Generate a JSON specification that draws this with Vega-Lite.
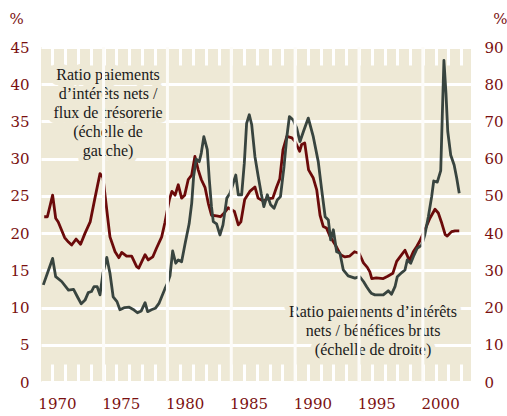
{
  "$schema": "https://vega.github.io/schema/vega-lite/v6.json",
  "width": 430,
  "height": 335,
  "autosize": "none",
  "padding": {"left": 41, "top": 47, "right": 36, "bottom": 34},
  "background": "white",
  "config": {
    "view": {"fill": "#EEE9D6", "stroke": null},
    "axis": {"domain": false, "labelFont": "DejaVu Serif", "labelFontSize": 15, "labelColor": "#7a1010", "titleFont": "DejaVu Serif", "titleFontSize": 15, "titleColor": "#7a1010", "titleFontWeight": "normal"}
  },
  "datasets": {
    "grille": [
      {"annee": 1973.65}, {"annee": 1978.65}, {"annee": 1983.65}, {"annee": 1988.65}, {"annee": 1993.65}, {"annee": 1998.65}
    ],
    "tresorerie": [
      {"year": 1969.0, "value": 22.2}, {"year": 1969.25, "value": 22.2}, {"year": 1969.66, "value": 25.1}, {"year": 1969.9, "value": 22.0},
      {"year": 1970.1, "value": 21.5}, {"year": 1970.6, "value": 19.4}, {"year": 1970.9, "value": 18.8}, {"year": 1971.15, "value": 18.4},
      {"year": 1971.5, "value": 19.2}, {"year": 1971.85, "value": 18.5}, {"year": 1972.2, "value": 20.0}, {"year": 1972.6, "value": 21.5},
      {"year": 1972.95, "value": 24.5}, {"year": 1973.37, "value": 28.0}, {"year": 1973.6, "value": 27.5}, {"year": 1973.9, "value": 23.1},
      {"year": 1974.15, "value": 19.5}, {"year": 1974.55, "value": 17.5}, {"year": 1974.85, "value": 16.7}, {"year": 1975.07, "value": 17.4},
      {"year": 1975.45, "value": 16.9}, {"year": 1975.85, "value": 16.9}, {"year": 1976.24, "value": 15.5}, {"year": 1976.4, "value": 15.3},
      {"year": 1976.9, "value": 17.1}, {"year": 1977.15, "value": 16.4}, {"year": 1977.5, "value": 16.8}, {"year": 1977.8, "value": 18.0},
      {"year": 1978.2, "value": 19.5}, {"year": 1978.45, "value": 21.4}, {"year": 1978.8, "value": 24.5}, {"year": 1979.0, "value": 25.6},
      {"year": 1979.25, "value": 25.1}, {"year": 1979.5, "value": 26.5}, {"year": 1979.76, "value": 24.7}, {"year": 1980.0, "value": 25.1},
      {"year": 1980.28, "value": 27.2}, {"year": 1980.55, "value": 27.8}, {"year": 1980.8, "value": 30.3}, {"year": 1981.06, "value": 28.5},
      {"year": 1981.3, "value": 27.2}, {"year": 1981.6, "value": 26.1}, {"year": 1981.85, "value": 24.0}, {"year": 1982.1, "value": 22.4},
      {"year": 1982.5, "value": 22.3}, {"year": 1982.8, "value": 22.2}, {"year": 1983.1, "value": 22.7}, {"year": 1983.4, "value": 23.4},
      {"year": 1983.9, "value": 22.9}, {"year": 1984.2, "value": 21.1}, {"year": 1984.4, "value": 21.5}, {"year": 1984.7, "value": 24.5},
      {"year": 1985.1, "value": 25.6}, {"year": 1985.5, "value": 26.2}, {"year": 1985.75, "value": 24.7}, {"year": 1986.15, "value": 24.3},
      {"year": 1986.5, "value": 24.6}, {"year": 1986.9, "value": 24.7}, {"year": 1987.2, "value": 26.2}, {"year": 1987.45, "value": 27.3},
      {"year": 1987.7, "value": 31.2}, {"year": 1988.0, "value": 33.0}, {"year": 1988.4, "value": 32.8}, {"year": 1988.65, "value": 32.3},
      {"year": 1989.0, "value": 31.0}, {"year": 1989.16, "value": 31.9}, {"year": 1989.4, "value": 32.1}, {"year": 1989.7, "value": 28.5},
      {"year": 1990.07, "value": 27.4}, {"year": 1990.34, "value": 25.8}, {"year": 1990.6, "value": 22.4}, {"year": 1990.85, "value": 20.9},
      {"year": 1991.1, "value": 20.7}, {"year": 1991.4, "value": 19.5}, {"year": 1991.8, "value": 18.4}, {"year": 1992.2, "value": 17.1},
      {"year": 1992.55, "value": 16.8}, {"year": 1992.9, "value": 16.9}, {"year": 1993.3, "value": 17.5}, {"year": 1993.65, "value": 17.3},
      {"year": 1994.0, "value": 16.0}, {"year": 1994.3, "value": 15.4}, {"year": 1994.5, "value": 14.8}, {"year": 1994.65, "value": 13.9},
      {"year": 1995.0, "value": 14.0}, {"year": 1995.55, "value": 13.9}, {"year": 1995.9, "value": 14.2}, {"year": 1996.3, "value": 14.6},
      {"year": 1996.6, "value": 16.2}, {"year": 1996.86, "value": 16.8}, {"year": 1997.25, "value": 17.7}, {"year": 1997.6, "value": 16.3},
      {"year": 1997.9, "value": 17.5}, {"year": 1998.17, "value": 18.2}, {"year": 1998.4, "value": 18.9}, {"year": 1998.8, "value": 20.4},
      {"year": 1999.2, "value": 22.0}, {"year": 1999.6, "value": 23.2}, {"year": 1999.86, "value": 22.7}, {"year": 2000.1, "value": 21.5},
      {"year": 2000.4, "value": 19.8}, {"year": 2000.56, "value": 19.6}, {"year": 2000.9, "value": 20.2}, {"year": 2001.17, "value": 20.3},
      {"year": 2001.5, "value": 20.3}
    ],
    "benefices": [
      {"year": 1968.93, "value": 26.1}, {"year": 1969.3, "value": 29.7}, {"year": 1969.66, "value": 33.2}, {"year": 1969.9, "value": 28.3},
      {"year": 1970.37, "value": 27.0}, {"year": 1970.9, "value": 24.7}, {"year": 1971.3, "value": 24.9}, {"year": 1971.6, "value": 22.9},
      {"year": 1971.9, "value": 21.0}, {"year": 1972.2, "value": 22.0}, {"year": 1972.45, "value": 24.0}, {"year": 1972.7, "value": 24.3},
      {"year": 1972.9, "value": 25.6}, {"year": 1973.15, "value": 25.6}, {"year": 1973.37, "value": 23.4}, {"year": 1973.6, "value": 29.2},
      {"year": 1973.9, "value": 33.5}, {"year": 1974.15, "value": 29.2}, {"year": 1974.4, "value": 22.9}, {"year": 1974.7, "value": 21.6},
      {"year": 1974.93, "value": 19.4}, {"year": 1975.3, "value": 20.0}, {"year": 1975.66, "value": 20.1}, {"year": 1975.97, "value": 19.5},
      {"year": 1976.3, "value": 18.6}, {"year": 1976.6, "value": 19.1}, {"year": 1976.9, "value": 21.3}, {"year": 1977.1, "value": 18.9},
      {"year": 1977.4, "value": 19.4}, {"year": 1977.7, "value": 19.8}, {"year": 1978.0, "value": 21.2}, {"year": 1978.2, "value": 22.9},
      {"year": 1978.45, "value": 25.0}, {"year": 1978.65, "value": 26.5}, {"year": 1978.85, "value": 28.5}, {"year": 1979.06, "value": 35.2},
      {"year": 1979.3, "value": 31.9}, {"year": 1979.5, "value": 32.8}, {"year": 1979.76, "value": 32.3}, {"year": 1980.05, "value": 37.5},
      {"year": 1980.35, "value": 42.5}, {"year": 1980.55, "value": 48.0}, {"year": 1980.7, "value": 55.2}, {"year": 1980.9, "value": 59.9},
      {"year": 1981.14, "value": 59.2}, {"year": 1981.3, "value": 61.5}, {"year": 1981.5, "value": 65.9}, {"year": 1981.77, "value": 62.4},
      {"year": 1981.93, "value": 54.3}, {"year": 1982.1, "value": 47.1}, {"year": 1982.24, "value": 43.1}, {"year": 1982.5, "value": 42.5},
      {"year": 1982.76, "value": 39.5}, {"year": 1983.0, "value": 42.2}, {"year": 1983.3, "value": 49.4}, {"year": 1983.55, "value": 50.7},
      {"year": 1983.8, "value": 53.4}, {"year": 1984.0, "value": 55.6}, {"year": 1984.2, "value": 50.3}, {"year": 1984.46, "value": 50.3},
      {"year": 1984.67, "value": 58.8}, {"year": 1984.85, "value": 69.5}, {"year": 1985.06, "value": 71.8}, {"year": 1985.25, "value": 69.1},
      {"year": 1985.5, "value": 60.6}, {"year": 1985.76, "value": 55.2}, {"year": 1986.0, "value": 50.5}, {"year": 1986.2, "value": 47.1},
      {"year": 1986.47, "value": 50.3}, {"year": 1986.73, "value": 47.6}, {"year": 1987.0, "value": 46.7}, {"year": 1987.25, "value": 48.9},
      {"year": 1987.5, "value": 49.8}, {"year": 1987.78, "value": 57.9}, {"year": 1988.0, "value": 65.9}, {"year": 1988.2, "value": 71.3},
      {"year": 1988.5, "value": 70.4}, {"year": 1988.77, "value": 68.2}, {"year": 1989.03, "value": 64.6}, {"year": 1989.3, "value": 67.3},
      {"year": 1989.68, "value": 70.9}, {"year": 1990.07, "value": 65.9}, {"year": 1990.46, "value": 59.2}, {"year": 1990.73, "value": 51.6},
      {"year": 1991.0, "value": 44.4}, {"year": 1991.25, "value": 43.5}, {"year": 1991.43, "value": 38.2}, {"year": 1991.64, "value": 40.9},
      {"year": 1991.9, "value": 35.0}, {"year": 1992.16, "value": 34.6}, {"year": 1992.42, "value": 30.1}, {"year": 1992.8, "value": 28.5},
      {"year": 1993.33, "value": 27.9}, {"year": 1993.7, "value": 28.3}, {"year": 1994.0, "value": 27.0}, {"year": 1994.25, "value": 25.6},
      {"year": 1994.5, "value": 24.3}, {"year": 1994.64, "value": 23.8}, {"year": 1994.9, "value": 23.4}, {"year": 1995.3, "value": 23.4},
      {"year": 1995.55, "value": 23.4}, {"year": 1995.94, "value": 24.5}, {"year": 1996.2, "value": 23.6}, {"year": 1996.47, "value": 25.6},
      {"year": 1996.65, "value": 28.3}, {"year": 1997.0, "value": 29.4}, {"year": 1997.25, "value": 30.1}, {"year": 1997.43, "value": 32.8},
      {"year": 1997.7, "value": 31.9}, {"year": 1997.96, "value": 34.1}, {"year": 1998.2, "value": 35.9}, {"year": 1998.56, "value": 36.8},
      {"year": 1998.8, "value": 39.5}, {"year": 1999.08, "value": 44.4}, {"year": 1999.34, "value": 49.8}, {"year": 1999.5, "value": 54.0},
      {"year": 1999.78, "value": 53.7}, {"year": 2000.05, "value": 56.8}, {"year": 2000.17, "value": 71.3}, {"year": 2000.3, "value": 86.4},
      {"year": 2000.46, "value": 77.6}, {"year": 2000.6, "value": 67.3}, {"year": 2000.83, "value": 61.0}, {"year": 2001.1, "value": 58.3},
      {"year": 2001.3, "value": 54.8}, {"year": 2001.5, "value": 50.7}
    ]
  },
  "layer": [
    {
      "data": {"name": "tresorerie"},
      "mark": {"type": "line", "color": "#6b0a0a", "strokeWidth": 2.8, "strokeJoin": "round"},
      "encoding": {
        "x": {"field": "year", "type": "quantitative", "scale": {"domain": [1968.75, 2002.42], "nice": false, "zero": false},
          "axis": {"orient": "bottom", "values": [1970, 1975, 1980, 1985, 1990, 1995, 2000], "format": "d", "ticks": false, "grid": false, "labelPadding": 14, "title": null}},
        "y": {"field": "value", "type": "quantitative", "scale": {"domain": [0, 45], "nice": false, "zero": true},
          "axis": {"orient": "left", "values": [0, 5, 10, 15, 20, 25, 30, 35, 40, 45], "grid": true, "gridColor": "white", "gridWidth": 3, "gridOpacity": 1, "ticks": false, "labelPadding": 12, "labelBaseline": "middle",
            "title": "%", "titleAngle": 0, "titleX": -32, "titleY": -24, "titleAlign": "left", "titleBaseline": "alphabetic"}}
      }
    },
    {
      "data": {"name": "benefices"},
      "mark": {"type": "line", "color": "#38443f", "strokeWidth": 2.8, "strokeJoin": "round"},
      "encoding": {
        "x": {"field": "year", "type": "quantitative", "scale": {"domain": [1968.75, 2002.42], "nice": false, "zero": false},
          "axis": {"orient": "bottom", "values": [1969.65, 1970.65, 1971.65, 1972.65, 1973.65, 1974.65, 1975.65, 1976.65, 1977.65, 1978.65, 1979.65, 1980.65, 1981.65, 1982.65, 1983.65, 1984.65, 1985.65, 1986.65, 1987.65, 1988.65, 1989.65, 1990.65, 1991.65, 1992.65, 1993.65, 1994.65, 1995.65, 1996.65, 1997.65, 1998.65, 1999.65, 2000.65, 2001.65],
            "labels": false, "ticks": true, "tickSize": -18, "tickColor": "white", "tickWidth": 3, "tickOpacity": 1, "grid": false, "title": null}},
        "y": {"field": "value", "type": "quantitative", "scale": {"domain": [0, 90], "nice": false, "zero": true},
          "axis": {"orient": "right", "values": [0, 10, 20, 30, 40, 50, 60, 70, 80, 90], "grid": false, "ticks": false, "labelPadding": 13, "labelBaseline": "middle",
            "title": "%", "titleAngle": 0, "titleX": 36, "titleY": -24, "titleAlign": "right", "titleBaseline": "alphabetic"}}
      }
    },
    {
      "data": {"values": [{"note": "gauche"}]},
      "mark": {"type": "text", "font": "Liberation Serif", "fontSize": 16, "lineHeight": 19, "align": "center", "baseline": "middle", "fill": "#EEE9D6", "stroke": "#EEE9D6", "strokeWidth": 10, "strokeJoin": "round"},
      "encoding": {
        "x": {"datum": 1974.0, "type": "quantitative", "scale": {"domain": [1968.75, 2002.42], "nice": false, "zero": false},
          "axis": {"orient": "top", "values": [1969.65, 1970.65, 1971.65, 1972.65, 1973.65, 1974.65, 1975.65, 1976.65, 1977.65, 1978.65, 1979.65, 1980.65, 1981.65, 1982.65, 1983.65, 1984.65, 1985.65, 1986.65, 1987.65, 1988.65, 1989.65, 1990.65, 1991.65, 1992.65, 1993.65, 1994.65, 1995.65, 1996.65, 1997.65, 1998.65, 1999.65, 2000.65, 2001.65],
            "labels": false, "ticks": true, "tickSize": -18, "tickColor": "white", "tickWidth": 3, "tickOpacity": 1, "grid": false, "title": null}},
        "y": {"datum": 41.3, "type": "quantitative", "scale": {"domain": [0, 45], "nice": false}, "axis": null},
        "text": {"value": ["Ratio paiements", "d’intérêts nets /", "flux de trésorerie", "(échelle de", "gauche)"]}
      }
    },
    {
      "data": {"values": [{"note": "droite"}]},
      "mark": {"type": "text", "font": "Liberation Serif", "fontSize": 16, "lineHeight": 19, "align": "center", "baseline": "middle", "fill": "#EEE9D6", "stroke": "#EEE9D6", "strokeWidth": 10, "strokeJoin": "round"},
      "encoding": {
        "x": {"datum": 1994.75, "type": "quantitative", "scale": {"domain": [1968.75, 2002.42], "nice": false, "zero": false}, "axis": null},
        "y": {"datum": 9.45, "type": "quantitative", "scale": {"domain": [0, 45], "nice": false}, "axis": null},
        "text": {"value": ["Ratio paiements d’intérêts", "nets / bénéfices bruts", "(échelle de droite)"]}
      }
    },
    {
      "data": {"values": [{"note": "gauche"}]},
      "mark": {"type": "text", "font": "Liberation Serif", "fontSize": 16, "lineHeight": 19, "align": "center", "baseline": "middle", "color": "#1a1a1a"},
      "encoding": {
        "x": {"datum": 1974.0, "type": "quantitative", "scale": {"domain": [1968.75, 2002.42], "nice": false, "zero": false}, "axis": null},
        "y": {"datum": 41.3, "type": "quantitative", "scale": {"domain": [0, 45], "nice": false}, "axis": null},
        "text": {"value": ["Ratio paiements", "d’intérêts nets /", "flux de trésorerie", "(échelle de", "gauche)"]}
      }
    },
    {
      "data": {"values": [{"note": "droite"}]},
      "mark": {"type": "text", "font": "Liberation Serif", "fontSize": 16, "lineHeight": 19, "align": "center", "baseline": "middle", "color": "#1a1a1a"},
      "encoding": {
        "x": {"datum": 1994.75, "type": "quantitative", "scale": {"domain": [1968.75, 2002.42], "nice": false, "zero": false}, "axis": null},
        "y": {"datum": 9.45, "type": "quantitative", "scale": {"domain": [0, 45], "nice": false}, "axis": null},
        "text": {"value": ["Ratio paiements d’intérêts", "nets / bénéfices bruts", "(échelle de droite)"]}
      }
    },
    {
      "data": {"name": "grille"},
      "mark": {"type": "rule", "color": "#FDFCF9", "strokeWidth": 3, "opacity": 1},
      "encoding": {
        "x": {"field": "annee", "type": "quantitative", "scale": {"domain": [1968.75, 2002.42], "nice": false, "zero": false}, "axis": null},
        "y": {"datum": 0, "type": "quantitative", "scale": {"domain": [0, 45], "nice": false}, "axis": null},
        "y2": {"datum": 45}
      }
    }
  ],
  "resolve": {"scale": {"y": "independent"}, "axis": {"x": "independent", "y": "independent"}}
}
